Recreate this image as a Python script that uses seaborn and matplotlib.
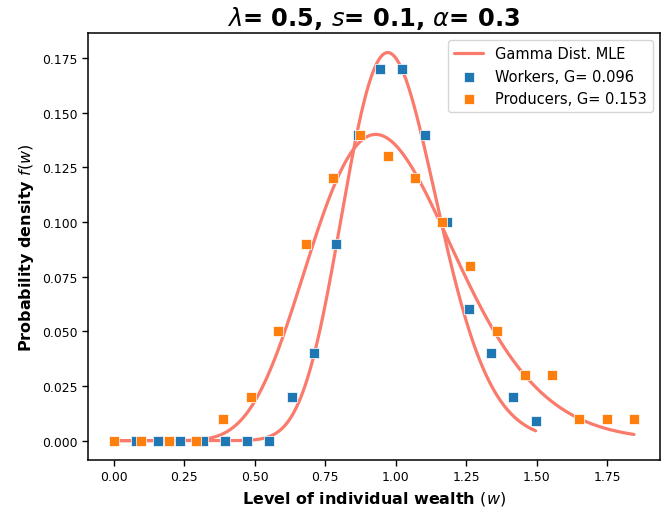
import math
import numpy as np
import matplotlib
matplotlib.use("Agg")
import matplotlib.pyplot as plt
import seaborn as sns

# Binned wealth distributions (bin position, probability)
workers_w = [0.079, 0.157, 0.236, 0.315, 0.394, 0.472, 0.551, 0.630, 0.709,
             0.787, 0.866, 0.944, 1.023, 1.102, 1.181, 1.259, 1.338, 1.417, 1.496]
workers_f = [0.0, 0.0, 0.0, 0.0, 0.0, 0.0, 0.0, 0.02, 0.04,
             0.09, 0.14, 0.17, 0.17, 0.14, 0.10, 0.06, 0.04, 0.02, 0.009]

producers_w = [0.000, 0.097, 0.194, 0.291, 0.388, 0.486, 0.583, 0.680, 0.777, 0.874,
               0.971, 1.068, 1.165, 1.262, 1.359, 1.457, 1.554, 1.651, 1.748, 1.845]
producers_f = [0.0, 0.0, 0.0, 0.0, 0.01, 0.02, 0.05, 0.09, 0.12, 0.14,
               0.13, 0.12, 0.10, 0.08, 0.05, 0.03, 0.03, 0.01, 0.01, 0.01]

# Gamma MLE fits: shape, scale, and bin-width normalisation
workers_fit = {"shape": 35.0, "scale": 1.0 / 35.0, "width": 0.0743}
producers_fit = {"shape": 14.0, "scale": 1.0 / 14.0, "width": 0.0910}

workers_label = "Workers, G= 0.096"
producers_label = "Producers, G= 0.153"
fit_label = "Gamma Dist. MLE"
title = r"$\lambda$= 0.5, $s$= 0.1, $\alpha$= 0.3"


def gamma_curve(w, shape, scale, width):
    w = np.asarray(w, dtype=float)
    out = np.zeros_like(w)
    pos = w > 0
    logpdf = ((shape - 1) * np.log(w[pos]) - w[pos] / scale
              - math.lgamma(shape) - shape * math.log(scale))
    out[pos] = width * np.exp(logpdf)
    return out


sns.set_style("ticks")
plt.rcParams["font.family"] = ["DejaVu Sans"]
plt.rcParams["text.color"] = "black"
plt.rcParams["axes.labelcolor"] = "black"

fig = plt.figure(figsize=(6.66, 5.10), dpi=100)
ax = fig.add_axes([0.132, 0.096, 0.859, 0.837])

line_color = "#fa7b6c"
grid_w = np.linspace(0, max(workers_w), 400)
grid_p = np.linspace(0, max(producers_w), 400)
sns.lineplot(x=grid_w, y=gamma_curve(grid_w, **workers_fit), ax=ax,
             color=line_color, lw=2.3, label=fit_label)
sns.lineplot(x=grid_p, y=gamma_curve(grid_p, **producers_fit), ax=ax,
             color=line_color, lw=2.3, label="_nolegend_")

sns.scatterplot(x=workers_w, y=workers_f, ax=ax, marker="s", s=42,
                color="#1f77b4", label=workers_label, zorder=3)
sns.scatterplot(x=producers_w, y=producers_f, ax=ax, marker="s", s=42,
                color="#ff7f0e", label=producers_label, zorder=3)

ax.set_xticks([0.0, 0.25, 0.5, 0.75, 1.0, 1.25, 1.5, 1.75])
ax.set_yticks([0.0, 0.025, 0.05, 0.075, 0.1, 0.125, 0.15, 0.175])
ax.xaxis.set_major_formatter(matplotlib.ticker.FormatStrFormatter("%.2f"))
ax.yaxis.set_major_formatter(matplotlib.ticker.FormatStrFormatter("%.3f"))
ax.tick_params(labelsize=8.9, length=4, width=1, colors="black")
for sp in ax.spines.values():
    sp.set_linewidth(1.1)
    sp.set_color("black")

ax.set_xlabel(r"Level of individual wealth $(w)$", fontsize=11.5, fontweight="bold")
ax.set_ylabel(r"Probability density $f(w)$", fontsize=11.5, fontweight="bold")
ax.set_title(title, fontsize=17.4, fontweight="bold")

leg = ax.legend(loc="upper right", fontsize=10.5, frameon=True)
for t in leg.get_texts():
    t.set_color("black")

fig.savefig("out.png", dpi=100)
